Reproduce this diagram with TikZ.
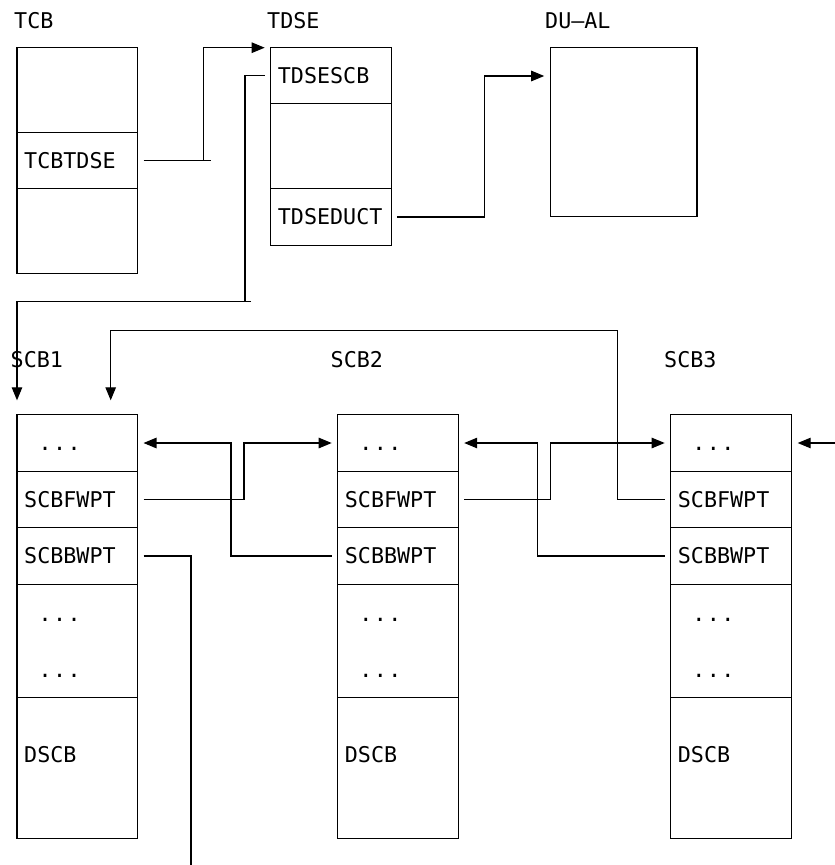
\documentclass[tikz,border=0pt]{standalone}
\usepackage{fontspec}
\newfontfamily\dfont{DejaVu Sans Mono}
\usetikzlibrary{arrows.meta}
\newcommand{\tdots}{.\kern1.4pt.\kern1.4pt.}
\tikzset{
  cell/.style={draw, line width=1.1pt, minimum width=120.5pt, inner sep=0pt, outer sep=0pt, anchor=north west},
  txt/.style={inner sep=0pt, anchor=west, text height=15.7pt, text depth=0pt, font=\dfont\fontsize{21.7}{26}\selectfont},
  lbl/.style={inner sep=0pt, anchor=base west, font=\dfont\fontsize{21.7}{26}\selectfont},
  ln/.style={line width=1.1pt},
  arr/.style={line width=1.1pt, -{Triangle[length=13pt,width=10.5pt]}}
}
\begin{document}
\begin{tikzpicture}[x=1pt,y=-1pt]
\useasboundingbox (0,0) rectangle (835,865);
% labels
\node[lbl] (lTCB) at (14,28.3) {TCB};
\node[lbl] (lTDSE) at (267,28.3) {TDSE};
\node[lbl] (lDUAL) at (545,28.3) {DU–AL};
\node[lbl] (lS1) at (10.5,367.7) {SCB1};
\node[lbl] (lS2) at (330.5,367.7) {SCB2};
\node[lbl] (lS3) at (664,367.7) {SCB3};
% TCB
\node[cell, minimum height=84.6pt] (tcbA) at (17,47.7) {};
\node[cell, minimum height=56.4pt] (tcbB) at (17,132.3) {};
\node[cell, minimum height=85pt] (tcbC) at (17,188.7) {};
\node[txt] (tTCBTDSE) at ([xshift=7pt]tcbB.west) {TCBTDSE};
% TDSE
\node[cell, minimum height=55.6pt] (tdseA) at (270.7,47.7) {};
\node[cell, minimum height=85.4pt] (tdseB) at (270.7,103.3) {};
\node[cell, minimum height=56.6pt] (tdseC) at (270.7,188.7) {};
\node[txt] (tTDSESCB) at ([xshift=7pt]tdseA.west) {TDSESCB};
\node[txt] (tTDSEDUCT) at ([xshift=7pt]tdseC.west) {TDSEDUCT};
% DU-AL
\node[cell, minimum width=146.3pt, minimum height=169pt] (dual) at (550.7,47.7) {};
% SCB boxes
\foreach \n/\x in {1/17, 2/337.7, 3/670.7} {
  \node[cell, minimum height=57.4pt] (s\n a) at (\x,414.3) {};
  \node[cell, minimum height=55.6pt] (s\n b) at (\x,471.7) {};
  \node[cell, minimum height=57.4pt] (s\n c) at (\x,527.3) {};
  \node[cell, minimum height=112.6pt] (s\n d) at (\x,584.7) {};
  \node[cell, minimum height=141pt] (s\n e) at (\x,697.3) {};
  \node[txt] (t\n a) at ([xshift=21.5pt]s\n a.west) {\tdots};
  \node[txt] (t\n b) at ([xshift=7pt]s\n b.west) {SCBFWPT};
  \node[txt] (t\n c) at ([xshift=7pt]s\n c.west) {SCBBWPT};
  \node[txt] (t\n d1) at ([xshift=21.5pt,yshift=27.6pt]s\n d.west) {\tdots};
  \node[txt] (t\n d2) at ([xshift=21.5pt,yshift=-29pt]s\n d.west) {\tdots};
  \node[txt] (t\n e) at ([xshift=7pt,yshift=12.8pt]s\n e.west) {DSCB};
}
% connectors
\coordinate (c2a) at (245,301.7);
\coordinate (c4) at (231,443);
\coordinate (c5) at (244,443);
\coordinate (c6) at (191,865);
\coordinate (c7) at (537.3,443);
\coordinate (c8) at (550.7,443);
\coordinate (c9) at (617.7,330.7);
\coordinate (c10) at (835,443);
% TCBTDSE -> TDSE
\draw[ln] ([xshift=6pt]tcbB.east) -- ([xshift=73pt]tcbB.east);
\draw[arr] ([xshift=66pt]tcbB.east) |- ([xshift=-6pt]tdseA.north west);
% TDSESCB -> SCB1
\draw[ln] ([xshift=-6pt]tdseA.west) -| (c2a);
\draw[arr] ([xshift=6pt]c2a) -| ([yshift=14pt]s1a.north west);
% TDSEDUCT -> DU-AL
\draw[arr] ([xshift=6pt]tdseC.east) -- ++(87,0) |- ([xshift=-6.5pt,yshift=-28.3pt]dual.north west);
% SCB chain
\draw[arr] ([xshift=-6pt]s2c.west) -| (c4) -- ([xshift=6pt]s1a.east);
\draw[arr] ([xshift=6pt]s1b.east) -| (c5) -- ([xshift=-6pt]s2a.west);
\draw[ln] ([xshift=6pt]s1c.east) -| (c6);
\draw[arr] ([xshift=-6pt]s3c.west) -| (c7) -- ([xshift=6pt]s2a.east);
\draw[arr] ([xshift=6pt]s2b.east) -| (c8) -- ([xshift=-6pt]s3a.west);
\draw[arr] ([xshift=-6pt]s3b.west) -| (c9) -| ([xshift=93.7pt,yshift=14pt]s1a.north west);
\draw[arr] (c10) -- ([xshift=6.5pt]s3a.east);
\end{tikzpicture}
\end{document}
